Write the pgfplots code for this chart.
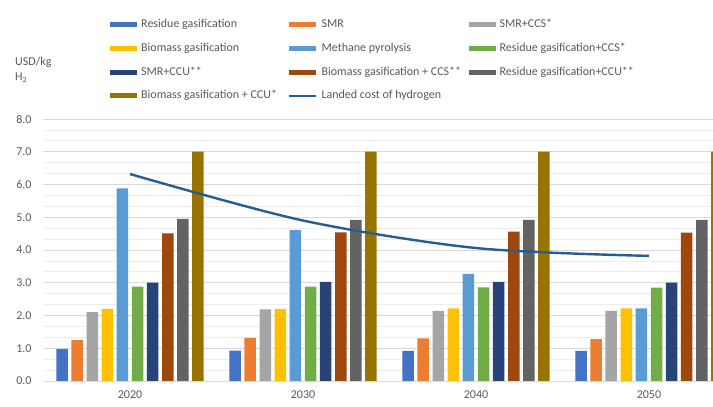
\documentclass[border=0pt]{standalone}
\usepackage{fontspec}
\setmainfont{Carlito}
\usepackage{pgfplots}
\pgfplotsset{compat=1.18}
\definecolor{c1}{HTML}{4472C4}
\definecolor{c2}{HTML}{ED7D31}
\definecolor{c3}{HTML}{A5A5A5}
\definecolor{c4}{HTML}{FFC000}
\definecolor{c5}{HTML}{5B9BD5}
\definecolor{c6}{HTML}{70AD47}
\definecolor{c7}{HTML}{264478}
\definecolor{c8}{HTML}{9E480E}
\definecolor{c9}{HTML}{636363}
\definecolor{c10}{HTML}{997300}
\definecolor{cl}{HTML}{255E91}
\definecolor{txt}{HTML}{595959}
\pgfplotsset{
  barstyle/.style={ybar, bar width=11.5pt, draw=none, fill=#1,
    legend image code/.code={\fill[##1] (0pt,-2.5pt) rectangle (27pt,2.5pt);}},
  linestyle/.style={legend image code/.code={\draw[##1, line width=2.4pt] (0pt,0pt) -- (27pt,0pt);}},
}
\newcommand{\lent}[1]{\makebox[146pt][l]{#1}}
\begin{document}
\begin{tikzpicture}
\useasboundingbox (0,0) rectangle (713pt,407pt);
\begin{axis}[
  at={(43pt,26pt)}, anchor=south west,
  scale only axis, width=670pt, height=262pt,
  xmin=-0.503, xmax=3.37, ymin=0, ymax=8,
  axis line style={draw=none},
  axis x line*=bottom,
  xtick={0,1,2,3}, xticklabels={2020,2030,2040,2050},
  ytick={0,1,...,8},
  minor y tick num=2,
  major tick length=0pt, minor tick length=0pt,
  ymajorgrids, yminorgrids,
  major grid style={draw=black!15, line width=0.8pt},
  minor grid style={draw=black!7, line width=0.7pt},
  yticklabel style={/pgf/number format/fixed, /pgf/number format/precision=1, /pgf/number format/fixed zerofill, xshift=-8pt},
  /pgf/number format/assume math mode=true,
  ticklabel style={font=\fontsize{12}{14}\selectfont, text=txt},
  xticklabel style={yshift=-6pt},
  legend columns=3,
  legend style={draw=none, at={(rel axis cs:0.1,1.385)}, anchor=north west,
    font=\fontsize{12}{14}\selectfont, text=txt, inner sep=0pt,
    row sep=10.67pt,
    cells={anchor=west},
    /tikz/every odd column/.append style={column sep=3pt},
    /tikz/every even column/.append style={column sep=0pt},
    nodes={text height=8.5pt, text depth=2.5pt, inner sep=1pt}},
]
\addplot[barstyle=c1, bar shift=-67.95pt] coordinates {(0,0.97) (1,0.93) (2,0.92) (3,0.92)};
\addlegendentry{\lent{Residue gasification}}
\addplot[barstyle=c2, bar shift=-52.85pt] coordinates {(0,1.25) (1,1.32) (2,1.30) (3,1.28)};
\addlegendentry{\lent{SMR}}
\addplot[barstyle=c3, bar shift=-37.75pt] coordinates {(0,2.10) (1,2.19) (2,2.14) (3,2.14)};
\addlegendentry{\lent{SMR+CCS*}}
\addplot[barstyle=c4, bar shift=-22.65pt] coordinates {(0,2.20) (1,2.20) (2,2.22) (3,2.22)};
\addlegendentry{\lent{Biomass gasification}}
\addplot[barstyle=c5, bar shift=-7.55pt] coordinates {(0,5.88) (1,4.61) (2,3.27) (3,2.22)};
\addlegendentry{\lent{Methane pyrolysis}}
\addplot[barstyle=c6, bar shift=7.55pt] coordinates {(0,2.88) (1,2.88) (2,2.86) (3,2.85)};
\addlegendentry{\lent{Residue gasification+CCS*}}
\addplot[barstyle=c7, bar shift=22.65pt] coordinates {(0,3.00) (1,3.03) (2,3.03) (3,3.00)};
\addlegendentry{\lent{SMR+CCU**}}
\addplot[barstyle=c8, bar shift=37.75pt] coordinates {(0,4.51) (1,4.54) (2,4.56) (3,4.53)};
\addlegendentry{\lent{Biomass gasification + CCS**}}
\addplot[barstyle=c9, bar shift=52.85pt] coordinates {(0,4.95) (1,4.92) (2,4.92) (3,4.92)};
\addlegendentry{\lent{Residue gasification+CCU**}}
\addplot[barstyle=c10, bar shift=67.95pt] coordinates {(0,7.00) (1,7.00) (2,7.00) (3,7.00)};
\addlegendentry{\lent{Biomass gasification + CCU*}}
\addplot[cl, line width=2.4pt, smooth, mark=none, linestyle]
  coordinates {(0,6.32) (1,4.90) (2,4.06) (3,3.82)};
\addlegendentry{\lent{Landed cost of hydrogen}}
\end{axis}
\node[anchor=west, text=txt, font=\fontsize{12}{14}\selectfont, inner sep=0pt] at (15pt,345pt) {USD/kg};
\node[anchor=west, text=txt, font=\fontsize{12}{14}\selectfont, inner sep=0pt] at (15pt,329pt) {H\textsubscript{2}};
\end{tikzpicture}
\end{document}
